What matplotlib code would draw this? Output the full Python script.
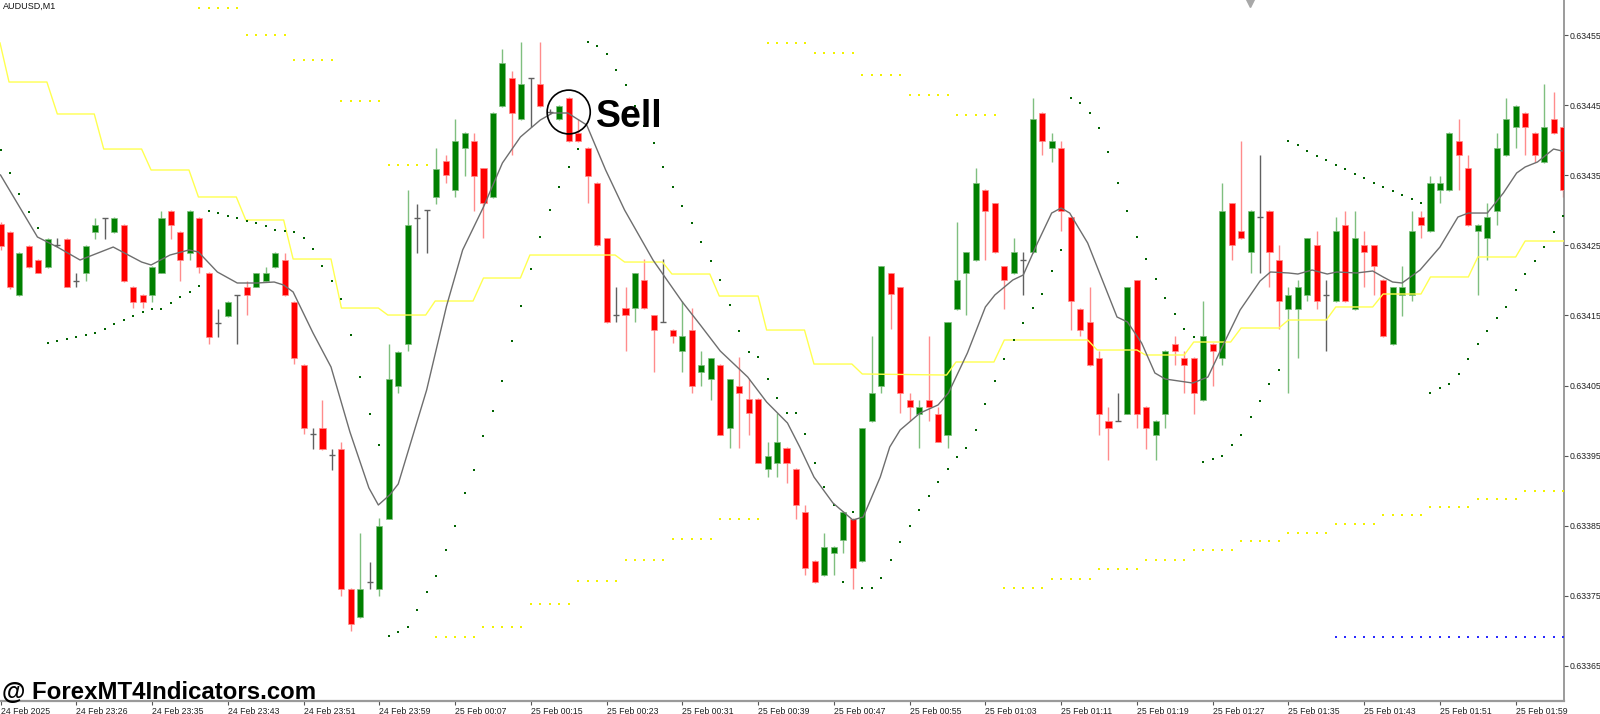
import numpy as np
import matplotlib
matplotlib.use("Agg")
import matplotlib.pyplot as plt
from matplotlib.patches import Ellipse

# ---- candles (AUDUSD M1), one entry per bar ----
opens = [
    0.634281, 0.634269, 0.634179, 0.634249, 0.634229, 0.634219, 0.634250, 0.634259, 0.634199, 0.634211,
    0.634269, 0.634289, 0.634269, 0.634279, 0.634191, 0.634179, 0.634179, 0.634211, 0.634299, 0.634269,
    0.634239, 0.634289, 0.634211, 0.634139, 0.634149, 0.634179, 0.634191, 0.634191, 0.634199, 0.634219,
    0.634229, 0.634169, 0.634080, 0.633981, 0.633989, 0.633951, 0.633960, 0.633760, 0.633720, 0.633770,
    0.633760, 0.633860, 0.634049, 0.634109, 0.634289, 0.634300, 0.634319, 0.634370, 0.634329, 0.634389,
    0.634399, 0.634360, 0.634319, 0.634449, 0.634489, 0.634430, 0.634489, 0.634480, 0.634440, 0.634430,
    0.634460, 0.634410, 0.634389, 0.634339, 0.634260, 0.634150, 0.634160, 0.634160, 0.634201, 0.634150,
    0.634140, 0.634129, 0.634100, 0.634129, 0.634070, 0.634060, 0.634080, 0.633989, 0.634050, 0.634031,
    0.634031, 0.633931, 0.633940, 0.633961, 0.633931, 0.633870, 0.633800, 0.633780, 0.633811, 0.633830,
    0.633860, 0.633800, 0.633999, 0.634050, 0.634210, 0.634190, 0.634030, 0.634010, 0.634030, 0.634010,
    0.633980, 0.634159, 0.634210, 0.634229, 0.634329, 0.634310, 0.634220, 0.634210, 0.634229, 0.634240,
    0.634439, 0.634389, 0.634389, 0.634290, 0.634159, 0.634140, 0.634090, 0.634000, 0.634000, 0.634010,
    0.634200, 0.634020, 0.633980, 0.634010, 0.634109, 0.634090, 0.634090, 0.634029, 0.634109, 0.634090,
    0.634310, 0.634270, 0.634240, 0.634290, 0.634299, 0.634229, 0.634159, 0.634159, 0.634179, 0.634250,
    0.634179, 0.634170, 0.634279, 0.634159, 0.634250, 0.634250, 0.634201, 0.634109, 0.634179, 0.634179,
    0.634290, 0.634270, 0.634329, 0.634329, 0.634399, 0.634360, 0.634270, 0.634260, 0.634299, 0.634379,
    0.634419, 0.634439, 0.634410, 0.634369, 0.634430, 0.634419,
]
highs = [
    0.634283, 0.634270, 0.634240, 0.634250, 0.634230, 0.634260, 0.634261, 0.634260, 0.634211, 0.634250,
    0.634289, 0.634289, 0.634290, 0.634280, 0.634192, 0.634180, 0.634220, 0.634299, 0.634300, 0.634270,
    0.634300, 0.634290, 0.634212, 0.634159, 0.634170, 0.634179, 0.634199, 0.634211, 0.634219, 0.634240,
    0.634239, 0.634170, 0.634081, 0.633989, 0.634029, 0.633959, 0.633970, 0.633761, 0.633840, 0.633798,
    0.633861, 0.634109, 0.634099, 0.634329, 0.634309, 0.634300, 0.634389, 0.634379, 0.634430, 0.634411,
    0.634410, 0.634361, 0.634440, 0.634530, 0.634499, 0.634540, 0.634489, 0.634540, 0.634445, 0.634450,
    0.634461, 0.634430, 0.634390, 0.634340, 0.634261, 0.634191, 0.634191, 0.634211, 0.634230, 0.634151,
    0.634230, 0.634130, 0.634170, 0.634160, 0.634100, 0.634090, 0.634081, 0.634059, 0.634091, 0.634059,
    0.634032, 0.633970, 0.634011, 0.633962, 0.633932, 0.633880, 0.633801, 0.633840, 0.633821, 0.633871,
    0.633861, 0.633990, 0.634120, 0.634220, 0.634211, 0.634191, 0.634040, 0.634030, 0.634120, 0.634020,
    0.634140, 0.634283, 0.634240, 0.634360, 0.634330, 0.634311, 0.634221, 0.634260, 0.634240, 0.634460,
    0.634440, 0.634410, 0.634399, 0.634291, 0.634160, 0.634190, 0.634100, 0.634020, 0.634040, 0.634191,
    0.634201, 0.634021, 0.634001, 0.634101, 0.634120, 0.634100, 0.634091, 0.634170, 0.634110, 0.634339,
    0.634311, 0.634399, 0.634300, 0.634379, 0.634300, 0.634250, 0.634190, 0.634201, 0.634261, 0.634270,
    0.634201, 0.634290, 0.634299, 0.634299, 0.634270, 0.634251, 0.634202, 0.634191, 0.634220, 0.634299,
    0.634299, 0.634349, 0.634349, 0.634411, 0.634430, 0.634379, 0.634280, 0.634310, 0.634410, 0.634460,
    0.634450, 0.634440, 0.634411, 0.634480, 0.634469, 0.634420,
]
lows = [
    0.634243, 0.634188, 0.634178, 0.634218, 0.634210, 0.634218, 0.634248, 0.634190, 0.634191, 0.634199,
    0.634259, 0.634259, 0.634268, 0.634198, 0.634161, 0.634161, 0.634169, 0.634210, 0.634259, 0.634199,
    0.634229, 0.634211, 0.634109, 0.634119, 0.634148, 0.634109, 0.634151, 0.634190, 0.634198, 0.634218,
    0.634178, 0.634081, 0.633981, 0.633959, 0.633958, 0.633930, 0.633750, 0.633700, 0.633719, 0.633760,
    0.633750, 0.633859, 0.634039, 0.634099, 0.634239, 0.634239, 0.634309, 0.634339, 0.634319, 0.634349,
    0.634299, 0.634260, 0.634318, 0.634448, 0.634379, 0.634429, 0.634419, 0.634448, 0.634437, 0.634429,
    0.634398, 0.634398, 0.634310, 0.634249, 0.634139, 0.634140, 0.634100, 0.634140, 0.634159, 0.634070,
    0.634140, 0.634110, 0.634070, 0.634040, 0.634050, 0.634029, 0.633979, 0.633961, 0.633961, 0.633980,
    0.633939, 0.633920, 0.633920, 0.633911, 0.633860, 0.633780, 0.633769, 0.633779, 0.633780, 0.633811,
    0.633760, 0.633799, 0.633998, 0.634040, 0.634130, 0.634011, 0.633999, 0.633961, 0.633999, 0.633969,
    0.633961, 0.634158, 0.634151, 0.634228, 0.634229, 0.634239, 0.634159, 0.634209, 0.634179, 0.634239,
    0.634379, 0.634369, 0.634270, 0.634129, 0.634120, 0.634078, 0.633980, 0.633944, 0.634000, 0.634009,
    0.633990, 0.633960, 0.633944, 0.633990, 0.634079, 0.634040, 0.634010, 0.634028, 0.634050, 0.634079,
    0.634229, 0.634259, 0.634210, 0.634210, 0.634190, 0.634130, 0.634040, 0.634090, 0.634170, 0.634159,
    0.634100, 0.634169, 0.634169, 0.634158, 0.634190, 0.634179, 0.634119, 0.634108, 0.634149, 0.634170,
    0.634260, 0.634269, 0.634310, 0.634328, 0.634329, 0.634278, 0.634179, 0.634229, 0.634279, 0.634378,
    0.634389, 0.634379, 0.634369, 0.634368, 0.634409, 0.634319,
]
closes = [
    0.634249, 0.634191, 0.634239, 0.634219, 0.634211, 0.634259, 0.634250, 0.634191, 0.634199, 0.634249,
    0.634279, 0.634289, 0.634289, 0.634199, 0.634169, 0.634169, 0.634219, 0.634289, 0.634279, 0.634229,
    0.634299, 0.634219, 0.634119, 0.634139, 0.634169, 0.634179, 0.634179, 0.634211, 0.634211, 0.634239,
    0.634179, 0.634090, 0.633989, 0.633981, 0.633959, 0.633951, 0.633760, 0.633710, 0.633760, 0.633770,
    0.633850, 0.634059, 0.634098, 0.634279, 0.634289, 0.634300, 0.634359, 0.634350, 0.634399, 0.634410,
    0.634349, 0.634310, 0.634439, 0.634510, 0.634439, 0.634480, 0.634489, 0.634449, 0.634440, 0.634449,
    0.634399, 0.634399, 0.634349, 0.634250, 0.634140, 0.634150, 0.634150, 0.634210, 0.634160, 0.634129,
    0.634140, 0.634120, 0.634120, 0.634050, 0.634080, 0.634090, 0.633980, 0.634059, 0.634040, 0.634011,
    0.633940, 0.633950, 0.633970, 0.633940, 0.633880, 0.633790, 0.633770, 0.633820, 0.633820, 0.633870,
    0.633790, 0.633989, 0.634040, 0.634220, 0.634180, 0.634040, 0.634020, 0.634020, 0.634020, 0.633970,
    0.634140, 0.634200, 0.634240, 0.634339, 0.634299, 0.634240, 0.634200, 0.634240, 0.634229, 0.634430,
    0.634399, 0.634399, 0.634299, 0.634170, 0.634129, 0.634079, 0.634010, 0.633990, 0.634000, 0.634190,
    0.634010, 0.633990, 0.634000, 0.634100, 0.634100, 0.634079, 0.634040, 0.634120, 0.634100, 0.634299,
    0.634250, 0.634260, 0.634299, 0.634290, 0.634240, 0.634170, 0.634179, 0.634190, 0.634260, 0.634170,
    0.634179, 0.634270, 0.634170, 0.634260, 0.634240, 0.634220, 0.634120, 0.634190, 0.634190, 0.634270,
    0.634279, 0.634339, 0.634339, 0.634410, 0.634379, 0.634279, 0.634279, 0.634290, 0.634389, 0.634430,
    0.634449, 0.634419, 0.634379, 0.634419, 0.634410, 0.634329,
]

# ---- moving average (gray line), read at bar positions ----
ma_bar = [0, 3.9, 6, 8.4, 11.9, 14.9, 15.9, 17.9, 19.9, 20.9, 22.9, 25, 27.1, 28.9, 29.9,
          30.9, 33, 34.9, 36.9, 38.9, 39.9, 41.1, 42, 45, 47.1, 48.8, 51, 53, 54.9, 57,
          58.3, 59.9, 61.9, 63.9, 65.9, 68.9, 72, 73.9, 76, 78.9, 80.9, 83.1, 84.4, 85.9, 87.9,
          90, 91.1, 92.9, 93.9, 95, 97.1, 99, 100.1, 102.1, 104, 105, 106.9, 108, 109.5, 111,
          112, 112.9, 114.8, 117.9, 119, 120.5, 121.9, 123, 125.9, 127.5, 129, 130.9, 133, 134.1, 136,
          137, 138.5, 140.1, 141.1, 143.2, 144.9, 146, 147, 148, 149.9, 152, 153.9, 155, 157, 158.7,
          160.1, 161, 162.3, 164, 164.9]
ma_price = [0.6343504, 0.6342619, 0.6342476, 0.6342291, 0.6342476, 0.6342262, 0.634222, 0.6342362,
            0.6342434, 0.6342405, 0.634212, 0.6341963, 0.6341963, 0.6341977, 0.6341934,
            0.6341835, 0.634125, 0.6340765, 0.6339837, 0.633904, 0.6338796, 0.633894, 0.6339096,
            0.6340437, 0.6341635, 0.6342434, 0.6343047, 0.6343675, 0.6344046, 0.6344288,
            0.6344388, 0.6344388, 0.6344217, 0.6343575, 0.6343004, 0.6342291, 0.6341692, 0.6341364,
            0.6340993, 0.6340622, 0.6340265, 0.6339966, 0.6339623, 0.6339195, 0.6338825,
            0.6338582, 0.6338625, 0.6339195, 0.6339623, 0.6339866, 0.6340108, 0.6340223, 0.6340394,
            0.6340964, 0.6341621, 0.6341792, 0.6342006, 0.6342077, 0.6342534, 0.6342961,
            0.6343033, 0.6342961, 0.6342534, 0.6341478, 0.6341407, 0.6341107, 0.6340679, 0.6340593,
            0.6340536, 0.6340622, 0.634105, 0.6341578, 0.6341991, 0.634212, 0.6342106,
            0.6342091, 0.6342148, 0.6342091, 0.634212, 0.6342106, 0.6342134, 0.6342049, 0.6341977,
            0.6341963, 0.6342148, 0.6342476, 0.6342904, 0.6342961, 0.6342961, 0.6343247,
            0.6343532, 0.6343618, 0.6343689, 0.6343874, 0.6343846]

# ---- yellow stepped level ----
step_bar = [-0.05, 0.9, 4.9, 6.0, 9.9, 10.9, 14.9, 15.9, 19.9, 20.9, 24.9, 25.9, 29.9, 30.9, 34.9,
            36.0, 39.9, 40.9, 44.9, 45.9, 49.9, 51.0, 54.9, 55.9, 64.9, 65.9, 69.9, 70.9, 74.9, 75.9,
            80.0, 80.9, 84.9, 85.9, 89.9, 91.0, 99.9, 100.9, 104.9, 106.0, 114.8, 115.8, 120.0, 120.9,
            125.0, 126.0, 129.9, 131.0, 135.0, 136.0, 140.0, 141.0, 144.9, 146.0, 150.0, 151.0, 155.0,
            156.0, 160.0, 161.0, 165.1]
step_price = [0.6345387, 0.634483, 0.634483, 0.6344374, 0.6344374, 0.6343874, 0.6343874, 0.6343575,
              0.6343575, 0.634319, 0.634319, 0.6342862, 0.6342862, 0.6342305, 0.6342305,
              0.6341606, 0.6341606, 0.6341506, 0.6341506, 0.6341706, 0.6341706, 0.6342034, 0.6342034,
              0.6342362, 0.6342362, 0.6342262, 0.6342262, 0.6342091, 0.6342091, 0.6341777,
              0.6341777, 0.6341292, 0.6341292, 0.6340807, 0.6340807, 0.6340665, 0.634065, 0.6340836,
              0.6340836, 0.634115, 0.634115, 0.6341007, 0.6341007, 0.6340936, 0.6340936,
              0.6341121, 0.6341121, 0.6341321, 0.6341321, 0.6341435, 0.6341435, 0.6341621, 0.6341621,
              0.6341806, 0.6341806, 0.6342049, 0.6342049, 0.6342334, 0.6342334, 0.6342562, 0.6342562]

# ---- yellow dotted levels (5 bars each) ----
upper_start = [21, 26, 31, 36, 41, 81, 86, 91, 96, 101]
upper_level = [0.6345882, 0.6345501, 0.634514, 0.6344563, 0.6343646,
               0.6345391, 0.6345248, 0.6344934, 0.6344645, 0.6344359]
lower_start = [46, 51, 56, 61, 66, 71, 76, 106, 111, 116, 121, 126, 131, 136, 141, 146, 151, 156, 161]
lower_level = [0.6336909, 0.6337051, 0.6337384, 0.6337712, 0.6338016, 0.6338307, 0.6338596,
               0.6337612, 0.6337745, 0.6337879, 0.6338016, 0.633815, 0.6338278, 0.6338401,
               0.6338529, 0.6338649, 0.6338772, 0.6338886, 0.6338996]
blue_start, blue_end, blue_level = 141, 165, 0.6336909

# ---- parabolic SAR dots, one per bar ----
sar = [
    0.634386, 0.6343532, 0.6343233, 0.6342976, 0.6342748, 0.6341107, 0.6341136, 0.6341164, 0.6341193, 0.6341221,
    0.634125, 0.6341307, 0.6341378, 0.6341435, 0.6341492, 0.6341549, 0.6341592, 0.6341592, 0.6341678, 0.6341763,
    0.6341835, 0.634192, 0.634299, 0.6342961, 0.6342919, 0.634289, 0.6342847, 0.6342819, 0.6342776, 0.6342719,
    0.6342705, 0.634269, 0.6342605, 0.6342448, 0.6342205, 0.6341992, 0.6341735, 0.6341221, 0.6340622, 0.6340094,
    0.6339652, 0.633693, 0.633699, 0.6337056, 0.6337298, 0.6337555, 0.6337783, 0.6338154, 0.6338496, 0.6338967,
    0.6339295, 0.633978, 0.6340137, 0.6340565, 0.6341136, 0.6341635, 0.6342163, 0.6342619, 0.6343004, 0.6343332,
    0.6343618, 0.6343874, 0.6345401, 0.6345344, 0.634523, 0.6345001, 0.6344787, 0.6344488, 0.6344203, 0.634396,
    0.6343618, 0.6343332, 0.6343061, 0.6342819, 0.6342548, 0.6342277, 0.6342006, 0.6341649, 0.6341278, 0.6340979,
    0.6340907, 0.6340593, 0.6340322, 0.6340108, 0.6340108, 0.6339809, 0.6339395, 0.6339053, 0.6338796, 0.6337698,
    0.6338696, 0.6337612, 0.6337612, 0.6337755, 0.6338011, 0.6338268, 0.6338496, 0.6338725, 0.6338924, 0.6339124,
    0.633931, 0.6339481, 0.6339609, 0.6339866, 0.6340237, 0.6340565, 0.6340879, 0.634115, 0.6341392, 0.6341606,
    0.6341806, 0.6342134, 0.6342434, 0.6344602, 0.6344531, 0.6344388, 0.6344174, 0.6343832, 0.634339, 0.634299,
    0.6342619, 0.6342305, 0.634202, 0.6341749, 0.6341521, 0.6341307, 0.6341193, 0.6339409, 0.6339452, 0.6339495,
    0.6339652, 0.6339795, 0.6340051, 0.634028, 0.6340522, 0.6340722, 0.6343989, 0.6343932, 0.6343846, 0.6343775,
    0.6343718, 0.6343646, 0.6343589, 0.6343518, 0.6343461, 0.634339, 0.6343332, 0.6343275, 0.6343218, 0.6343161,
    0.6343104, 0.6340394, 0.6340465, 0.6340522, 0.6340665, 0.6340879, 0.6341093, 0.6341278, 0.6341464, 0.6341621,
    0.6341863, 0.6342091, 0.6342277, 0.6342476, 0.634269, 0.6342919,
]

time_labels = ["24 Feb 2025", "24 Feb 23:26", "24 Feb 23:35", "24 Feb 23:43", "24 Feb 23:51",
               "24 Feb 23:59", "25 Feb 00:07", "25 Feb 00:15", "25 Feb 00:23", "25 Feb 00:31",
               "25 Feb 00:39", "25 Feb 00:47", "25 Feb 00:55", "25 Feb 01:03", "25 Feb 01:11",
               "25 Feb 01:19", "25 Feb 01:27", "25 Feb 01:35", "25 Feb 01:43", "25 Feb 01:51",
               "25 Feb 01:59"]
time_label_bars = [0, 8, 16, 24, 32, 40, 48, 56, 64, 72, 80, 88, 96, 104, 112, 120, 128, 136, 144, 152, 160]
price_ticks = [0.63365, 0.63375, 0.63385, 0.63395, 0.63405, 0.63415, 0.63425, 0.63435, 0.63445, 0.63455]

sell_bar, sell_price = 60.0, 0.6344402

# ---- figure ----
fig = plt.figure(figsize=(16, 7.14), dpi=100)
ax = fig.add_axes([0, 13 / 714, 1564 / 1600, 701 / 714])
ax.set_xlim(-0.053, 165.1)
ax.set_ylim(0.63360, 0.63460)

GREEN, GREEN_W = "#008000", "#7fbf7f"
RED, RED_W = "#ff0000", "#ff8c8c"
DOJI = "#606060"
bw = 0.64

for i in range(len(opens)):
    o, h, l, c = opens[i], highs[i], lows[i], closes[i]
    if o == c:
        ax.plot([i, i], [l, h], color=DOJI, lw=1.0, zorder=2, solid_capstyle="butt")
        ax.plot([i - bw / 2, i + bw / 2], [o, o], color=DOJI, lw=1.0, zorder=2, solid_capstyle="butt")
        continue
    col, wcol = (GREEN, GREEN_W) if c > o else (RED, RED_W)
    ax.plot([i, i], [l, h], color=wcol, lw=1.0, zorder=2, solid_capstyle="butt")
    ax.bar(i, abs(c - o), bottom=min(o, c), width=bw, color=col,
           edgecolor=wcol, linewidth=0.5, zorder=3)

# indicators
ax.plot(step_bar, step_price, color="#ffff50", lw=1.0, zorder=4)
ax.plot(ma_bar, ma_price, color="#6e6e6e", lw=1.0, zorder=5)

for s, lev in zip(upper_start, upper_level):
    xs = np.arange(s, s + 5)
    ax.plot(xs, [lev] * len(xs), ls="none", marker="s", ms=1.5, color="#f2f200", mew=0, zorder=4)
for s, lev in zip(lower_start, lower_level):
    xs = np.arange(s, s + 5)
    ax.plot(xs, [lev] * len(xs), ls="none", marker="s", ms=1.5, color="#f2f200", mew=0, zorder=4)
bx = np.arange(blue_start, blue_end + 1)
ax.plot(bx, [blue_level] * len(bx), ls="none", marker="s", ms=1.5, color="#2a2aff", mew=0, zorder=4)

ax.plot(np.arange(len(sar)), sar, ls="none", marker="s", ms=1.6, color="#006400", mew=0, zorder=4)

# sell signal
ax.add_patch(Ellipse((sell_bar, sell_price), 4.55, 0.0000625, fill=False,
                     edgecolor="black", lw=1.2, zorder=6))
ax.text(62.9, 0.6344188, "Sell", fontsize=27, fontweight="bold", family="Liberation Sans",
        ha="left", va="baseline", color="black", zorder=6)

# axes styling
for side in ("top", "left"):
    ax.spines[side].set_visible(False)
ax.spines["right"].set_color("#8a8a8a")
ax.spines["bottom"].set_color("#9a9a9a")
ax.spines["right"].set_linewidth(1.2)
ax.spines["bottom"].set_linewidth(1.6)

ax.yaxis.tick_right()
ax.set_yticks(price_ticks)
ax.set_yticklabels(["%.5f" % p for p in price_ticks])
ax.set_xticks(time_label_bars)
ax.set_xticklabels(time_labels)
ax.tick_params(axis="both", direction="out", length=3, width=0.8, color="#555555",
               labelsize=6.3, labelcolor="#222222", pad=1)
for t in ax.get_xticklabels():
    t.set_ha("left")
    t.set_family("Liberation Sans")
for t in ax.get_yticklabels():
    t.set_family("Liberation Sans")

ax.text(0.002, 0.997, "AUDUSD,M1", transform=ax.transAxes, fontsize=6.5,
        family="Liberation Sans", ha="left", va="top", color="#111111")
ax.plot([1250 / 1564], [1 - 3 / 701], transform=ax.transAxes, marker="v", ms=6,
        color="#a8a8a8", clip_on=False, zorder=6)

fig.text(0.001, 15 / 714, "@ ForexMT4Indicators.com", fontsize=17.3, fontweight="bold",
         family="Liberation Sans", ha="left", va="baseline", color="black")

fig.savefig("out.png", dpi=100, facecolor="white")
